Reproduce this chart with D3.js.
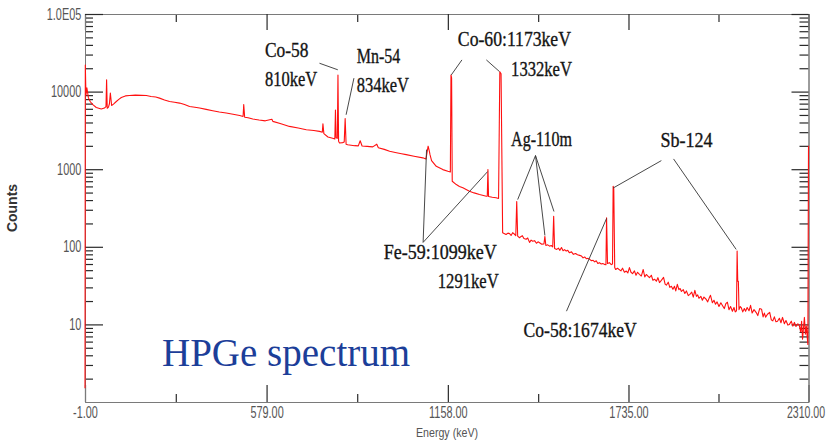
<!DOCTYPE html>
<html>
<head>
<meta charset="utf-8">
<script src="https://cdn.jsdelivr.net/npm/d3@7"></script>
<style>
  body { margin: 0; background: #fff; }
  .tick text { font-family: "Liberation Sans", Arial, sans-serif; font-size: 16px; fill: #555; }
</style>
</head>
<body>
<div id="content"></div>
<script>
// HPGe gamma spectrum, values as [energy keV, counts]
var spectrum = [
  [-1, 1.5], [0, 22000], [2, 9000], [5, 11200], [10, 8300], [16, 7400], [24, 6800], [35, 6240],
  [51, 5960], [61, 6140], [66, 6400], [68, 14200], [70, 6100], [74, 6300], [77, 6970], [80, 9600],
  [84, 6630], [90, 6900], [99, 7460], [107, 7950], [115, 8400], [128, 8800], [141, 8900], [160, 9000],
  [180, 8950], [195, 8900], [210, 8650], [225, 8500], [237, 8240], [253, 7800], [269, 7460], [285, 7300],
  [301, 7110], [317, 6800], [333, 6440], [350, 6300], [365, 6140], [386, 5900], [407, 5670], [428, 5450],
  [450, 5290], [472, 5100], [493, 4930], [504, 4790], [506, 6800], [509, 4680], [520, 4600], [535, 4430],
  [555, 4300], [575, 4200], [596, 4400], [599, 4130], [625, 3850], [652, 3560], [680, 3400], [706, 3230],
  [730, 3150], [748, 3070], [757, 3000], [759, 3850], [762, 2870], [775, 2600], [790, 2500], [797, 2450],
  [799, 5800], [801, 2550], [805, 2500], [807, 16400], [809, 2300], [812, 2180], [822, 2200], [827, 2240],
  [830, 4500], [833, 2100], [838, 2070], [860, 2010], [872, 2000], [878, 2330], [884, 1990], [900, 1970],
  [918, 1940], [931, 2100], [936, 1890], [955, 1800], [972, 1700], [990, 1640], [1010, 1580], [1025, 1540],
  [1050, 1470], [1078, 1400], [1088, 1350], [1095, 1980], [1099, 1700], [1101, 1540], [1106, 1290], [1121, 1090],
  [1142, 988], [1158, 940], [1166, 920], [1168, 16400], [1170, 15000], [1172, 700], [1185, 634], [1195, 600],
  [1206, 575], [1227, 520], [1242, 495], [1259, 471], [1281, 449], [1284, 450], [1286, 988], [1288, 445],
  [1300, 435], [1312, 428], [1320, 420], [1324, 18000], [1328, 17000], [1333, 152], [1344, 144], [1350, 150],
  [1355, 148], [1360, 140], [1365, 152], [1371, 145], [1375, 139], [1378, 383], [1381, 137], [1387, 131],
  [1392, 136], [1396, 139], [1401, 128], [1408, 125], [1413, 130], [1419, 114], [1424, 122], [1429, 118],
  [1435, 120], [1441, 111], [1446, 116], [1451, 113], [1458, 108], [1465, 109], [1468, 136], [1471, 104],
  [1477, 106], [1483, 102], [1488, 104], [1493, 99.6], [1496, 248], [1499, 95], [1506, 92.6], [1511, 96],
  [1516, 90], [1521, 98], [1526, 89], [1531, 92], [1536, 88], [1541, 90], [1546, 84], [1553, 86],
  [1559, 80], [1566, 82], [1572, 79], [1579, 77.5], [1585, 76], [1590, 72], [1595, 74], [1601, 70],
  [1606, 71], [1611, 68.9], [1617, 66], [1622, 67], [1627, 64], [1632, 66], [1637, 61], [1642, 62.5],
  [1648, 60], [1653, 61], [1658, 59.4], [1663, 58.6], [1665, 237], [1668, 61], [1674, 62.5], [1680, 59],
  [1684, 60], [1686, 603], [1688, 560], [1691, 54], [1694, 51], [1700, 53], [1706, 50.5], [1711, 49],
  [1716, 53], [1722, 47], [1728, 48.7], [1733, 46], [1738, 54], [1743, 47], [1748, 45], [1754, 49],
  [1759, 43], [1764, 47], [1770, 44.2], [1776, 42], [1782, 51], [1787, 41], [1792, 44], [1797, 42],
  [1802, 40.1], [1808, 43], [1813, 37], [1818, 38.2], [1824, 36], [1829, 40], [1834, 34.6], [1840, 37],
  [1847, 40.3], [1852, 33], [1856, 32], [1862, 35], [1867, 30], [1872, 31], [1877, 28.3], [1882, 31],
  [1886, 27], [1891, 32.8], [1896, 28], [1900, 29], [1904, 26.6], [1910, 28], [1915, 25], [1920, 27],
  [1926, 23.5], [1931, 24.4], [1937, 26], [1942, 22.5], [1947, 27.5], [1952, 23], [1956, 24], [1960, 21.7],
  [1966, 23], [1971, 20.5], [1976, 22.5], [1983, 21.1], [1988, 19.5], [1993, 22], [1997, 23.7], [2003, 19],
  [2008, 20.5], [2013, 18.2], [2018, 19.5], [2024, 17], [2030, 19], [2036, 17.3], [2041, 16], [2046, 18.5],
  [2051, 19.3], [2056, 15.5], [2061, 17], [2067, 14.8], [2072, 16.5], [2076, 14.5], [2080, 15], [2082, 88],
  [2084, 36], [2086, 36], [2088, 15.5], [2092, 17], [2095, 16.5], [2100, 14.5], [2105, 16], [2109, 14.8],
  [2114, 16.5], [2120, 15], [2125, 17.6], [2130, 14], [2136, 15.5], [2143, 14.2], [2148, 13], [2154, 16],
  [2160, 15.7], [2165, 12.5], [2169, 14], [2173, 12.4], [2179, 13.5], [2186, 14.3], [2191, 11.5], [2196, 11.1],
  [2201, 12.5], [2206, 10.8], [2211, 11], [2217, 12], [2222, 10.5], [2227, 12.3], [2233, 10.2], [2238, 11.2],
  [2244, 9.8], [2249, 10], [2255, 11], [2260, 9.5], [2265, 10.6], [2270, 9.4], [2276, 10.2], [2281, 9.6],
  [2285, 8], [2288, 11], [2291, 6.45], [2294, 9], [2297, 12.3], [2300, 7.5], [2303, 9.5], [2306, 6.8],
  [2308, 5.5], [2310, 2000]
];

// axis ticks
var xMajorTicks  = [-1, 579, 1158, 1735, 2310];
var xTickLabels  = ["-1.00", "579.00", "1158.00", "1735.00", "2310.00"];
var xMinorTicks  = [289, 868.5, 1446.5, 2022.5];
var yMajorTicks  = [10, 100, 1000, 10000, 100000];
var yTickLabels  = ["10", "100", "1000", "10000", "1.0E05"];
var yMinorTicks  = [];
[1, 10, 100, 1000, 10000].forEach(function(dec){
    for (var m = 2; m <= 9; m++) yMinorTicks.push(dec * m);
});

// peak labels: text, energy, counts (anchor of the text baseline)
var labelText   = ["Co-58", "810keV", "Mn-54", "834keV", "Co-60:1173keV", "1332keV", "Ag-110m",
                   "Sb-124", "Fe-59:1099keV", "1291keV", "Co-58:1674keV"];
var labelKeV    = [574, 574, 867, 867, 1190, 1360, 1360, 1837, 953, 1126, 1400];
var labelCounts = [28000, 11900, 23500, 9940, 38800, 16000, 2010, 1960, 68.9, 29.2, 6.85];

// leader lines: [keV1, counts1, keV2, counts2]
var leaders = [
  [748, 23200, 806.5, 19100],
  [858, 14900, 833, 5030],
  [1203, 25600, 1169, 16400],
  [1281, 25600, 1323, 18100],
  [1438, 1500, 1381, 406],
  [1438, 1500, 1468, 140],
  [1438, 1500, 1497, 285],
  [1079, 114, 1090, 1790],
  [1079, 114, 1285, 931],
  [1537, 14.8, 1665, 232],
  [1840, 1290, 1686, 572],
  [1879, 1356, 2079, 92.6]
];

var width = 827, height = 443;
var svg = d3.select("#content").append("svg")
    .attr("width", width)
    .attr("height", height);

var x = d3.scaleLinear().domain([-1, 2310]).range([85, 808.5]);
var y = d3.scaleLog().domain([1, 1e5]).range([402, 14]);

var axisColor = '#7a7a7a';
var tickColor = '#2a2a2a';

function styleAxis(g){
    g.select('.domain').attr('stroke', axisColor);
    g.selectAll('.tick line').attr('stroke', tickColor).attr('stroke-width', 1.2);
}

// bottom
svg.append('g').attr('transform', 'translate(0,402)')
    .call(d3.axisBottom(x).tickValues(xMinorTicks).tickSizeInner(-8).tickSizeOuter(0).tickFormat(''))
    .call(styleAxis);
var xb = svg.append('g').attr('transform', 'translate(0,402)')
    .call(d3.axisBottom(x).tickValues(xMajorTicks).tickSizeInner(-17).tickSizeOuter(0).tickPadding(4.5)
        .tickFormat(function(d, i){ return xTickLabels[i]; }))
    .call(styleAxis);
xb.selectAll('.tick text').attr('transform', function(d, i){
    // last label is pushed in a little so it stays inside the page
    return i === xMajorTicks.length - 1 ? 'translate(-3,0) scale(0.66,1)' : 'scale(0.68,1)';
});

// top
svg.append('g').attr('transform', 'translate(0,14)')
    .call(d3.axisTop(x).tickValues(xMinorTicks).tickSizeInner(-8).tickSizeOuter(0).tickFormat(''))
    .call(styleAxis);
svg.append('g').attr('transform', 'translate(0,14)')
    .call(d3.axisTop(x).tickValues(xMajorTicks).tickSizeInner(-16).tickSizeOuter(0).tickFormat(''))
    .call(styleAxis);

// left
svg.append('g').attr('transform', 'translate(85,0)')
    .call(d3.axisLeft(y).tickValues(yMinorTicks).tickSizeInner(-8).tickSizeOuter(0).tickFormat(''))
    .call(styleAxis);
var yl = svg.append('g').attr('transform', 'translate(85,0)')
    .call(d3.axisLeft(y).tickValues(yMajorTicks).tickSizeInner(-18).tickSizeOuter(0).tickPadding(5.5)
        .tickFormat(function(d, i){ return yTickLabels[i]; }))
    .call(styleAxis);
yl.selectAll('.tick text').attr('transform', 'scale(0.68,1)');

// right
svg.append('g').attr('transform', 'translate(808.5,0)')
    .call(d3.axisRight(y).tickValues(yMinorTicks).tickSizeInner(-9).tickSizeOuter(0).tickFormat(''))
    .call(styleAxis);
svg.append('g').attr('transform', 'translate(808.5,0)')
    .call(d3.axisRight(y).tickValues(yMajorTicks).tickSizeInner(-17).tickSizeOuter(0).tickFormat(''))
    .call(styleAxis);

// axis titles
svg.append('text')
    .attr('transform', 'translate(447,437) scale(0.82,1)')
    .attr('text-anchor', 'middle')
    .style('font-family', '"Liberation Sans", Arial, sans-serif')
    .style('font-size', '13px')
    .attr('fill', '#555')
    .text('Energy (keV)');

svg.append('text')
    .attr('transform', 'translate(17,208) rotate(-90)')
    .attr('text-anchor', 'middle')
    .style('font-family', '"Liberation Sans", Arial, sans-serif')
    .style('font-size', '14px')
    .style('font-weight', 'bold')
    .attr('fill', '#333')
    .text('Counts');

// spectrum
var line = d3.line()
    .x(function(d){ return x(d[0]); })
    .y(function(d){ return y(d[1]); });

svg.append('path')
    .datum(spectrum)
    .attr('d', line)
    .attr('fill', 'none')
    .attr('stroke', '#ff1010')
    .attr('stroke-width', 1.1)
    .attr('stroke-linejoin', 'round');

// leader lines
svg.selectAll('line.leader').data(leaders).enter().append('line')
    .attr('class', 'leader')
    .attr('x1', function(d){ return x(d[0]); })
    .attr('y1', function(d){ return y(d[1]); })
    .attr('x2', function(d){ return x(d[2]); })
    .attr('y2', function(d){ return y(d[3]); })
    .attr('stroke', '#333')
    .attr('stroke-width', 0.9);

// peak labels
svg.selectAll('text.peak').data(labelText).enter().append('text')
    .attr('class', 'peak')
    .attr('x', function(d, i){ return x(labelKeV[i]); })
    .attr('y', function(d, i){ return y(labelCounts[i]); })
    .attr('textLength', function(d){ return d.length * 8.7; })
    .attr('lengthAdjust', 'spacingAndGlyphs')
    .style('font-family', '"Liberation Serif", "Times New Roman", serif')
    .style('font-size', '21px')
    .attr('fill', '#141414')
    .attr('stroke', '#141414')
    .attr('stroke-width', 0.35)
    .text(function(d){ return d; });

// title inside plot
svg.append('text')
    .attr('x', 162)
    .attr('y', 366)
    .style('font-family', '"Liberation Serif", "Times New Roman", serif')
    .style('font-size', '39px')
    .attr('fill', '#1c3e99')
    .text('HPGe spectrum');
</script>
</body>
</html>
